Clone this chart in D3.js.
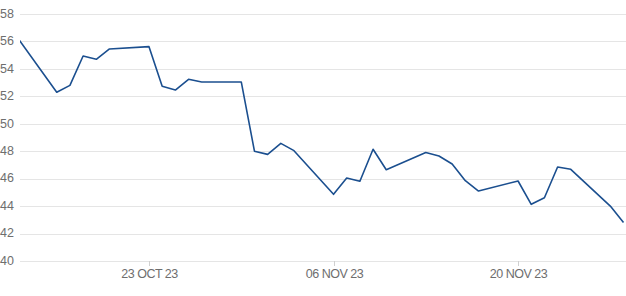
<!DOCTYPE html>
<html>
<head>
<meta charset="utf-8">
<script src="https://cdn.jsdelivr.net/npm/d3@7"></script>
<style>
  body { margin: 0; background: #fff; }
  svg { display: block; font-family: "Liberation Sans", Arial, sans-serif; }
  .grid line { stroke: #e5e5e5; stroke-width: 1; }
  .labs { fill: #6e6e6e; font-size: 12.5px; }
  .xlabs { letter-spacing: -0.5px; }
</style>
</head>
<body>
<div id="wrapper"></div>
<script>
// trading days and closing values
var dates = ["2023-10-13","2023-10-16","2023-10-17","2023-10-18","2023-10-19","2023-10-20",
             "2023-10-23","2023-10-24","2023-10-25","2023-10-26","2023-10-27",
             "2023-10-30","2023-10-31","2023-11-01","2023-11-02","2023-11-03",
             "2023-11-06","2023-11-07","2023-11-08","2023-11-09","2023-11-10",
             "2023-11-13","2023-11-14","2023-11-15","2023-11-16","2023-11-17",
             "2023-11-20","2023-11-21","2023-11-22","2023-11-23","2023-11-24",
             "2023-11-27","2023-11-28"];
var values = [56.3, 52.3, 52.8, 54.94, 54.7, 55.45,
              55.62, 52.73, 52.46, 53.24, 53.05,
              53.05, 48.0, 47.77, 48.57, 48.04,
              44.86, 46.05, 45.81, 48.14, 46.65,
              47.9, 47.65, 47.07, 45.85, 45.1,
              45.83, 44.13, 44.61, 46.85, 46.68,
              44.0, 42.8];
var yTicks = [40, 42, 44, 46, 48, 50, 52, 54, 56, 58];
var xTicks = ["2023-10-23", "2023-11-06", "2023-11-20"];

var width = 626, height = 296;
var plot = { left: 20, right: 626, top: 14, bottom: 261 };

var parse = d3.timeParse("%Y-%m-%d");
var dataset = dates.map(function(d, i) { return { date: parse(d), value: values[i] }; });

var svg = d3.select("#wrapper").append("svg")
    .attr("width", width)
    .attr("height", height);

var x = d3.scaleTime()
    .domain([parse("2023-10-13"), parse("2023-11-28")])
    .range([17.2, 623.5]);

var y = d3.scaleLinear()
    .domain([40, 58])
    .range([plot.bottom, plot.top]);

// gridlines
svg.append("g")
    .attr("class", "grid")
    .selectAll("line")
    .data(yTicks)
    .enter()
    .append("line")
    .attr("x1", plot.left)
    .attr("x2", plot.right)
    .attr("y1", function(d) { return Math.round(y(d)) + 0.5; })
    .attr("y2", function(d) { return Math.round(y(d)) + 0.5; });

// y labels
svg.append("g")
    .selectAll("text")
    .data(yTicks)
    .enter()
    .append("text")
    .text(function(d) { return d; })
    .attr("x", 14)
    .attr("y", function(d) { return y(d) + 3.8; })
    .style("text-anchor", "end")
    .classed("labs", true);

// x axis ticks and labels
var fmt = d3.timeFormat("%d %b %y");
var xg = svg.append("g")
    .selectAll("g")
    .data(xTicks.map(parse))
    .enter()
    .append("g")
    .attr("transform", function(d) { return "translate(" + (Math.round(x(d)) + 0.5) + ",0)"; });

xg.append("line")
    .attr("y1", plot.bottom)
    .attr("y2", plot.bottom + 5)
    .attr("stroke", "#d0d0d0");

xg.append("text")
    .text(function(d) { return fmt(d).toUpperCase(); })
    .attr("y", 277.5)
    .style("text-anchor", "middle")
    .classed("labs xlabs", true);

// clip so the line starts at the plot edge
svg.append("clipPath")
    .attr("id", "clip")
    .append("rect")
    .attr("x", plot.left)
    .attr("y", 0)
    .attr("width", plot.right - plot.left)
    .attr("height", height);

var line = d3.line()
    .x(function(d) { return x(d.date); })
    .y(function(d) { return y(d.value); });

svg.append("path")
    .datum(dataset)
    .attr("clip-path", "url(#clip)")
    .attr("d", line)
    .attr("fill", "none")
    .attr("stroke", "#1b4f8f")
    .attr("stroke-width", 1.6)
    .attr("stroke-linejoin", "round");
</script>
</body>
</html>
